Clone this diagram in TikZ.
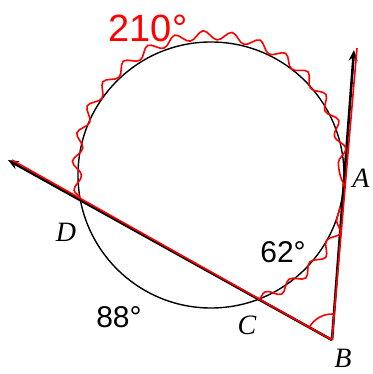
\documentclass[tikz,border=0pt]{standalone}
\usepackage{fontspec}
\setmainfont{Liberation Serif}
\newfontfamily\sansf{Liberation Sans}
\usetikzlibrary{arrows.meta,decorations.pathmorphing,calc}
\begin{document}
\begin{tikzpicture}[x=1pt,y=1pt,
  blk/.style={line width=2.6pt},
  circ/.style={line width=1.4pt},
  redl/.style={red, line width=1.6pt},
  wav/.style={red, line width=1.6pt, decorate, decoration={snake, amplitude=4.5pt, segment length=28pt}},
  tip/.style={-{Stealth[length=11pt,width=9pt,inset=4pt]}},
  ptlab/.style={font=\fontsize{28}{28}\selectfont\itshape, inner sep=0pt},
  anglab/.style={font=\sansf\fontsize{30}{30}\selectfont, inner sep=0pt}]
\useasboundingbox (0,0) rectangle (372,374);
\coordinate (O) at (211,199);
\coordinate (B) at (332,34);
\coordinate (T) at (354,324);
\coordinate (L) at (8,214);
\coordinate (RT) at (357,326);
\coordinate (RL) at (12,214);
% circle
\draw[circ] (O) circle (133);
% black rays
\draw[blk,tip] (B) -- (T);
\draw[blk,tip] (B) -- (L);
% red overlays
\draw[redl] (B) -- (RT);
\draw[redl] (B) -- (RL);
\draw[wav] ($(O)+(190:133)$) arc[start angle=190, end angle=-5, radius=133];
\draw[wav] ($(O)+(-69:133)$) arc[start angle=-69, end angle=-14, radius=133];
\draw[redl] ($(B)+(150.7:26)$) arc[start angle=150.7, end angle=88, radius=26];
% labels
\node[ptlab] (lD) at (66,142) {D};
\node[ptlab] (lC) at (247,49) {C};
\node[ptlab] (lB) at (343,16) {B};
\node[ptlab] (lA) at (361,196) {A};
\node[anglab] (a62) at (283,122) {62°};
\node[anglab] (a88) at (119,57) {88°};
\node[red, font=\sansf\fontsize{38}{38}\selectfont, inner sep=0pt] (t210) at (148,346) {210°};
\end{tikzpicture}
\end{document}
